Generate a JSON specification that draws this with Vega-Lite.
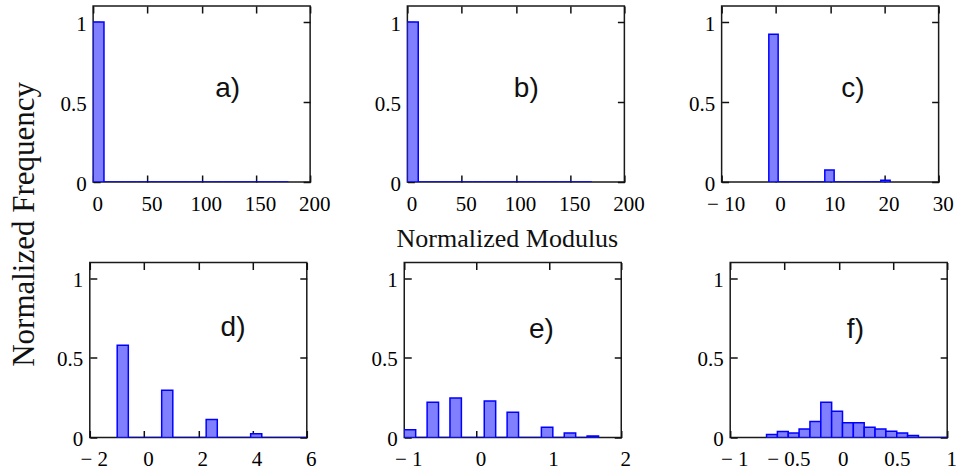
{
  "$schema": "https://vega.github.io/schema/vega-lite/v6.json",
  "padding": {"left": 8.5, "top": 4, "right": 2, "bottom": 2},
  "background": "white",
  "title": {"text": "Normalized Frequency", "orient": "left", "anchor": "middle", "frame": "bounds", "font": "Liberation Serif", "fontSize": 31, "fontWeight": "normal", "color": "#111", "offset": 15, "dx": 13},
  "config": {
    "view": {"stroke": "#1a1a1a", "strokeWidth": 1.5},
    "axis": {"domain": false, "grid": false, "ticks": true, "tickSize": -7, "tickColor": "#111", "tickWidth": 1.5, "labelFont": "Liberation Serif", "labelFontSize": 21, "labelColor": "#000", "labelFlush": false, "labelOverlap": false, "zindex": 1, "titleFontWeight": "normal", "titleFont": "Liberation Serif", "titleColor": "#111"},
    "axisBottom": {"labelPadding": 18, "labelOffset": 4},
    "axisLeft": {"labelPadding": 14, "labelOffset": 2},
    "axisTop": {"labels": false},
    "axisRight": {"labels": false}
  },
  "spacing": 8.5,
  "center": true,
  "vconcat": [
    {
      "spacing": 42.25,
      "hconcat": [
        {
          "width": 217, "height": 176,
          "layer": [
            {
              "data": {"values": [
                {"x0": 0, "x1": 10, "freq": 1}, {"x0": 10, "x1": 20, "freq": 0}, {"x0": 20, "x1": 30, "freq": 0},
                {"x0": 30, "x1": 40, "freq": 0}, {"x0": 40, "x1": 50, "freq": 0}, {"x0": 50, "x1": 60, "freq": 0},
                {"x0": 60, "x1": 70, "freq": 0}, {"x0": 70, "x1": 80, "freq": 0}, {"x0": 80, "x1": 90, "freq": 0},
                {"x0": 90, "x1": 100, "freq": 0}, {"x0": 100, "x1": 110, "freq": 0}, {"x0": 110, "x1": 120, "freq": 0},
                {"x0": 120, "x1": 130, "freq": 0}, {"x0": 130, "x1": 140, "freq": 0}, {"x0": 140, "x1": 150, "freq": 0},
                {"x0": 150, "x1": 160, "freq": 0}, {"x0": 160, "x1": 170, "freq": 0}, {"x0": 170, "x1": 180, "freq": 0}
              ]},
              "mark": {"type": "bar", "fill": "#8080ff", "stroke": "#0000ff", "strokeWidth": 1.5, "clip": true},
              "encoding": {
                "x": {"field": "x0", "type": "quantitative", "scale": {"domain": [0, 200], "nice": false, "zero": false}, "axis": {"orient": "bottom", "values": [0, 50, 100, 150, 200], "format": "~r", "title": null}},
                "x2": {"field": "x1"},
                "y": {"field": "freq", "type": "quantitative", "scale": {"domain": [0, 1.1], "nice": false}, "axis": {"orient": "left", "values": [0, 0.5, 1], "format": "~r", "title": null}},
                "y2": {"datum": 0}
              }
            },
            {
              "data": {"values": [{"label": "a)", "lx": 124, "ly": 0.53}]},
              "mark": {"type": "text", "font": "Liberation Sans", "fontSize": 28, "align": "center", "baseline": "alphabetic", "color": "#111"},
              "encoding": {
                "x": {"field": "lx", "type": "quantitative", "scale": {"domain": [0, 200], "nice": false, "zero": false}, "axis": {"orient": "top", "values": [0, 50, 100, 150, 200], "title": null}},
                "y": {"field": "ly", "type": "quantitative", "scale": {"domain": [0, 1.1], "nice": false}, "axis": {"orient": "right", "values": [0, 0.5, 1], "title": null}},
                "text": {"field": "label"}
              }
            }
          ],
          "resolve": {"axis": {"x": "independent", "y": "independent"}}
        },
        {
          "width": 217, "height": 176,
          "layer": [
            {
              "data": {"values": [
                {"x0": 0, "x1": 10, "freq": 1}, {"x0": 10, "x1": 20, "freq": 0}, {"x0": 20, "x1": 30, "freq": 0},
                {"x0": 30, "x1": 40, "freq": 0}, {"x0": 40, "x1": 50, "freq": 0}, {"x0": 50, "x1": 60, "freq": 0},
                {"x0": 60, "x1": 70, "freq": 0}, {"x0": 70, "x1": 80, "freq": 0}, {"x0": 80, "x1": 90, "freq": 0},
                {"x0": 90, "x1": 100, "freq": 0}, {"x0": 100, "x1": 110, "freq": 0}, {"x0": 110, "x1": 120, "freq": 0},
                {"x0": 120, "x1": 130, "freq": 0}, {"x0": 130, "x1": 140, "freq": 0}, {"x0": 140, "x1": 150, "freq": 0},
                {"x0": 150, "x1": 160, "freq": 0}, {"x0": 160, "x1": 170, "freq": 0}
              ]},
              "mark": {"type": "bar", "fill": "#8080ff", "stroke": "#0000ff", "strokeWidth": 1.5, "clip": true},
              "encoding": {
                "x": {"field": "x0", "type": "quantitative", "scale": {"domain": [0, 200], "nice": false, "zero": false}, "axis": {"orient": "bottom", "values": [0, 50, 100, 150, 200], "format": "~r", "title": "Normalized Modulus", "titleFontSize": 26, "titleX": 99.5, "titleY": 64, "titleAlign": "center", "titleBaseline": "alphabetic"}},
                "x2": {"field": "x1"},
                "y": {"field": "freq", "type": "quantitative", "scale": {"domain": [0, 1.1], "nice": false}, "axis": {"orient": "left", "values": [0, 0.5, 1], "format": "~r", "title": null}},
                "y2": {"datum": 0}
              }
            },
            {
              "data": {"values": [{"label": "b)", "lx": 109.6, "ly": 0.53}]},
              "mark": {"type": "text", "font": "Liberation Sans", "fontSize": 28, "align": "center", "baseline": "alphabetic", "color": "#111"},
              "encoding": {
                "x": {"field": "lx", "type": "quantitative", "scale": {"domain": [0, 200], "nice": false, "zero": false}, "axis": {"orient": "top", "values": [0, 50, 100, 150, 200], "title": null}},
                "y": {"field": "ly", "type": "quantitative", "scale": {"domain": [0, 1.1], "nice": false}, "axis": {"orient": "right", "values": [0, 0.5, 1], "title": null}},
                "text": {"field": "label"}
              }
            }
          ],
          "resolve": {"axis": {"x": "independent", "y": "independent"}}
        },
        {
          "width": 217, "height": 176,
          "layer": [
            {
              "data": {"values": [
                {"x0": -1.3, "x1": 0.42, "freq": 0.923}, {"x0": 0.42, "x1": 2.14, "freq": 0}, {"x0": 2.14, "x1": 3.86, "freq": 0},
                {"x0": 3.86, "x1": 5.58, "freq": 0}, {"x0": 5.58, "x1": 7.3, "freq": 0}, {"x0": 7.3, "x1": 9.02, "freq": 0},
                {"x0": 9.02, "x1": 10.74, "freq": 0.075}, {"x0": 10.74, "x1": 12.46, "freq": 0}, {"x0": 12.46, "x1": 14.18, "freq": 0},
                {"x0": 14.18, "x1": 15.9, "freq": 0}, {"x0": 15.9, "x1": 17.62, "freq": 0}, {"x0": 17.62, "x1": 19.34, "freq": 0},
                {"x0": 19.34, "x1": 21.06, "freq": 0.011}
              ]},
              "mark": {"type": "bar", "fill": "#8080ff", "stroke": "#0000ff", "strokeWidth": 1.5, "clip": true},
              "encoding": {
                "x": {"field": "x0", "type": "quantitative", "scale": {"domain": [-10, 30], "nice": false, "zero": false}, "axis": {"orient": "bottom", "values": [-10, 0, 10, 20, 30], "format": "~r", "labelExpr": "replace(datum.label, '−', '− ')", "title": null}},
                "x2": {"field": "x1"},
                "y": {"field": "freq", "type": "quantitative", "scale": {"domain": [0, 1.1], "nice": false}, "axis": {"orient": "left", "values": [0, 0.5, 1], "format": "~r", "title": null}},
                "y2": {"datum": 0}
              }
            },
            {
              "data": {"values": [{"label": "c)", "lx": 14.2, "ly": 0.53}]},
              "mark": {"type": "text", "font": "Liberation Sans", "fontSize": 28, "align": "center", "baseline": "alphabetic", "color": "#111"},
              "encoding": {
                "x": {"field": "lx", "type": "quantitative", "scale": {"domain": [-10, 30], "nice": false, "zero": false}, "axis": {"orient": "top", "values": [-10, 0, 10, 20, 30], "title": null}},
                "y": {"field": "ly", "type": "quantitative", "scale": {"domain": [0, 1.1], "nice": false}, "axis": {"orient": "right", "values": [0, 0.5, 1], "title": null}},
                "text": {"field": "label"}
              }
            }
          ],
          "resolve": {"axis": {"x": "independent", "y": "independent"}}
        }
      ]
    },
    {
      "spacing": 64.4,
      "hconcat": [
        {
          "spacing": 53.45,
          "hconcat": [
            {
              "width": 217, "height": 175,
              "layer": [
                {
                  "data": {"values": [
                    {"x0": -0.99, "x1": -0.58, "freq": 0.58}, {"x0": -0.58, "x1": -0.17, "freq": 0}, {"x0": -0.17, "x1": 0.24, "freq": 0},
                    {"x0": 0.24, "x1": 0.65, "freq": 0}, {"x0": 0.65, "x1": 1.06, "freq": 0.297}, {"x0": 1.06, "x1": 1.47, "freq": 0},
                    {"x0": 1.47, "x1": 1.88, "freq": 0}, {"x0": 1.88, "x1": 2.29, "freq": 0}, {"x0": 2.29, "x1": 2.7, "freq": 0.113},
                    {"x0": 2.7, "x1": 3.11, "freq": 0}, {"x0": 3.11, "x1": 3.52, "freq": 0}, {"x0": 3.52, "x1": 3.93, "freq": 0},
                    {"x0": 3.93, "x1": 4.34, "freq": 0.023}, {"x0": 4.34, "x1": 4.75, "freq": 0}, {"x0": 4.75, "x1": 5.16, "freq": 0},
                    {"x0": 5.16, "x1": 5.57, "freq": 0}, {"x0": 5.57, "x1": 5.98, "freq": 0}
                  ]},
                  "mark": {"type": "bar", "fill": "#8080ff", "stroke": "#0000ff", "strokeWidth": 1.5, "clip": true},
                  "encoding": {
                    "x": {"field": "x0", "type": "quantitative", "scale": {"domain": [-2, 6], "nice": false, "zero": false}, "axis": {"orient": "bottom", "values": [-2, 0, 2, 4, 6], "format": "~r", "labelExpr": "replace(datum.label, '−', '− ')", "title": null}},
                    "x2": {"field": "x1"},
                    "y": {"field": "freq", "type": "quantitative", "scale": {"domain": [0, 1.1], "nice": false}, "axis": {"orient": "left", "values": [0, 0.5, 1], "format": "~r", "title": null}},
                    "y2": {"datum": 0}
                  }
                },
                {
                  "data": {"values": [{"label": "d)", "lx": 3.28, "ly": 0.635}]},
                  "mark": {"type": "text", "font": "Liberation Sans", "fontSize": 28, "align": "center", "baseline": "alphabetic", "color": "#111"},
                  "encoding": {
                    "x": {"field": "lx", "type": "quantitative", "scale": {"domain": [-2, 6], "nice": false, "zero": false}, "axis": {"orient": "top", "values": [-2, 0, 2, 4, 6], "title": null}},
                    "y": {"field": "ly", "type": "quantitative", "scale": {"domain": [0, 1.1], "nice": false}, "axis": {"orient": "right", "values": [0, 0.5, 1], "title": null}},
                    "text": {"field": "label"}
                  }
                }
              ],
              "resolve": {"axis": {"x": "independent", "y": "independent"}}
            },
            {
              "width": 217, "height": 175,
              "layer": [
                {
                  "data": {"values": [
                    {"x0": -1, "x1": -0.842, "freq": 0.048}, {"x0": -0.842, "x1": -0.684, "freq": 0}, {"x0": -0.684, "x1": -0.526, "freq": 0.222},
                    {"x0": -0.526, "x1": -0.368, "freq": 0}, {"x0": -0.368, "x1": -0.21, "freq": 0.249}, {"x0": -0.21, "x1": -0.052, "freq": 0},
                    {"x0": -0.052, "x1": 0.106, "freq": 0}, {"x0": 0.106, "x1": 0.264, "freq": 0.23}, {"x0": 0.264, "x1": 0.422, "freq": 0},
                    {"x0": 0.422, "x1": 0.58, "freq": 0.159}, {"x0": 0.58, "x1": 0.738, "freq": 0}, {"x0": 0.738, "x1": 0.896, "freq": 0},
                    {"x0": 0.896, "x1": 1.054, "freq": 0.065}, {"x0": 1.054, "x1": 1.212, "freq": 0}, {"x0": 1.212, "x1": 1.37, "freq": 0.029},
                    {"x0": 1.37, "x1": 1.528, "freq": 0}, {"x0": 1.528, "x1": 1.686, "freq": 0.01}
                  ]},
                  "mark": {"type": "bar", "fill": "#8080ff", "stroke": "#0000ff", "strokeWidth": 1.5, "clip": true},
                  "encoding": {
                    "x": {"field": "x0", "type": "quantitative", "scale": {"domain": [-1, 2], "nice": false, "zero": false}, "axis": {"orient": "bottom", "values": [-1, 0, 1, 2], "format": "~r", "labelExpr": "replace(datum.label, '−', '− ')", "title": null}},
                    "x2": {"field": "x1"},
                    "y": {"field": "freq", "type": "quantitative", "scale": {"domain": [0, 1.1], "nice": false}, "axis": {"orient": "left", "values": [0, 0.5, 1], "format": "~r", "title": null}},
                    "y2": {"datum": 0}
                  }
                },
                {
                  "data": {"values": [{"label": "e)", "lx": 0.897, "ly": 0.628}]},
                  "mark": {"type": "text", "font": "Liberation Sans", "fontSize": 28, "align": "center", "baseline": "alphabetic", "color": "#111"},
                  "encoding": {
                    "x": {"field": "lx", "type": "quantitative", "scale": {"domain": [-1, 2], "nice": false, "zero": false}, "axis": {"orient": "top", "values": [-1, 0, 1, 2], "title": null}},
                    "y": {"field": "ly", "type": "quantitative", "scale": {"domain": [0, 1.1], "nice": false}, "axis": {"orient": "right", "values": [0, 0.5, 1], "title": null}},
                    "text": {"field": "label"}
                  }
                }
              ],
              "resolve": {"axis": {"x": "independent", "y": "independent"}}
            }
          ]
        },
        {
          "width": 217, "height": 175,
          "layer": [
            {
              "data": {"values": [
                {"x0": -0.665, "x1": -0.565, "freq": 0.019}, {"x0": -0.565, "x1": -0.465, "freq": 0.038}, {"x0": -0.465, "x1": -0.365, "freq": 0.028},
                {"x0": -0.365, "x1": -0.265, "freq": 0.054}, {"x0": -0.265, "x1": -0.165, "freq": 0.1}, {"x0": -0.165, "x1": -0.065, "freq": 0.222},
                {"x0": -0.065, "x1": 0.035, "freq": 0.165}, {"x0": 0.035, "x1": 0.135, "freq": 0.092}, {"x0": 0.135, "x1": 0.235, "freq": 0.092},
                {"x0": 0.235, "x1": 0.335, "freq": 0.064}, {"x0": 0.335, "x1": 0.435, "freq": 0.054}, {"x0": 0.435, "x1": 0.535, "freq": 0.04},
                {"x0": 0.535, "x1": 0.635, "freq": 0.028}, {"x0": 0.635, "x1": 0.735, "freq": 0.012}, {"x0": 0.735, "x1": 0.835, "freq": 0},
                {"x0": 0.835, "x1": 0.935, "freq": 0}, {"x0": 0.935, "x1": 1.035, "freq": 0}
              ]},
              "mark": {"type": "bar", "fill": "#8080ff", "stroke": "#0000ff", "strokeWidth": 1.5, "clip": true},
              "encoding": {
                "x": {"field": "x0", "type": "quantitative", "scale": {"domain": [-1, 1], "nice": false, "zero": false}, "axis": {"orient": "bottom", "values": [-1, -0.5, 0, 0.5, 1], "format": "~r", "labelExpr": "replace(datum.label, '−', '− ')", "title": null}},
                "x2": {"field": "x1"},
                "y": {"field": "freq", "type": "quantitative", "scale": {"domain": [0, 1.1], "nice": false}, "axis": {"orient": "left", "values": [0, 0.5, 1], "format": "~r", "title": null}},
                "y2": {"datum": 0}
              }
            },
            {
              "data": {"values": [{"label": "f)", "lx": 0.154, "ly": 0.628}]},
              "mark": {"type": "text", "font": "Liberation Sans", "fontSize": 28, "align": "center", "baseline": "alphabetic", "color": "#111"},
              "encoding": {
                "x": {"field": "lx", "type": "quantitative", "scale": {"domain": [-1, 1], "nice": false, "zero": false}, "axis": {"orient": "top", "values": [-1, -0.5, 0, 0.5, 1], "title": null}},
                "y": {"field": "ly", "type": "quantitative", "scale": {"domain": [0, 1.1], "nice": false}, "axis": {"orient": "right", "values": [0, 0.5, 1], "title": null}},
                "text": {"field": "label"}
              }
            }
          ],
          "resolve": {"axis": {"x": "independent", "y": "independent"}}
        }
      ]
    }
  ]
}
